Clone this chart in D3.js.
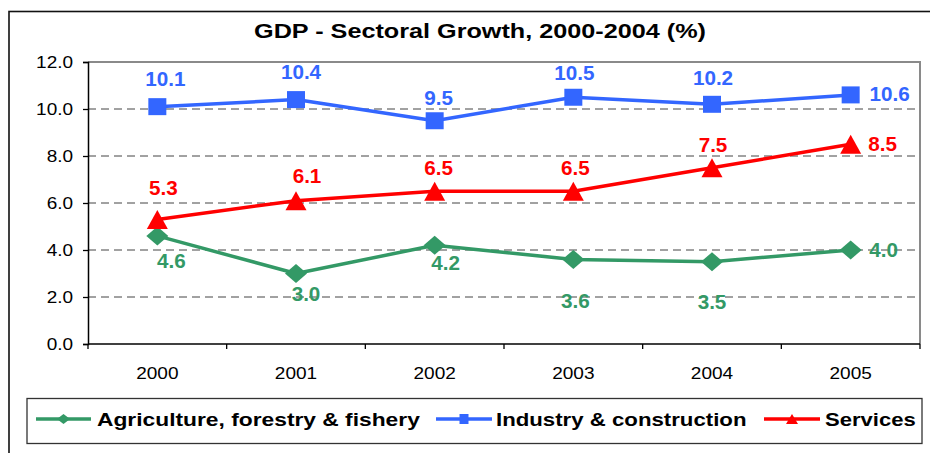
<!DOCTYPE html>
<html>
<head>
<meta charset="utf-8">
<script src="https://cdn.jsdelivr.net/npm/d3@7/dist/d3.min.js"></script>
<style>
  html, body { margin: 0; padding: 0; background: #fff; }
  svg { display: block; font-family: "Liberation Sans", Arial, Helvetica, sans-serif; }
</style>
</head>
<body>
<svg id="chart" width="930" height="453"></svg>
<script>
// ---- data ----
const years = ["2000", "2001", "2002", "2003", "2004", "2005"];
const agriculture = [4.6, 3.0, 4.2, 3.6, 3.5, 4.0];
const industry = [10.1, 10.4, 9.5, 10.5, 10.2, 10.6];
const services = [5.3, 6.1, 6.5, 6.5, 7.5, 8.5];
const yTicks = [0, 2, 4, 6, 8, 10, 12];
const seriesNames = ["Agriculture, forestry & fishery", "Industry & construction", "Services"];
const titleText = "GDP - Sectoral Growth, 2000-2004 (%)";

// ---- layout ----
const plot = { left: 88, right: 920, top: 62, bottom: 344 };
const colors = ["#339966", "#3366FF", "#FF0000"];
const shapes = ["diamond", "square", "triangle"];
// value label nudges (dx, dy) relative to each marker
const labelNudges = [
  [[14, 25], [10, 21], [11, 18], [2, 42], [0, 40], [33, 0]],
  [[8, -27], [5, -27], [4, -23], [1, -24], [1, -26], [39, -1]],
  [[6, -31], [11, -24], [4, -23], [2, -23], [1, -23], [32, 0]]
];
const legendItems = [
  { x0: 36, x1: 91, tx: 97, sx: 1.2 },
  { x0: 436, x1: 492, tx: 496, sx: 1.17 },
  { x0: 764, x1: 820, tx: 825, sx: 1.16 }
];

const svg = d3.select("#chart");

const x = d3.scaleBand().domain(years).range([plot.left, plot.right]);
const y = d3.scaleLinear().domain([0, 12]).range([plot.bottom, plot.top]);

// horizontally widened text, as the chart's text runs wide
function wideText(sel, px, py, sx) {
  return sel.attr("x", 0).attr("y", 0)
    .attr("transform", `translate(${px},${py}) scale(${sx},1)`);
}

function markerPath(shape, w, h) {
  const a = w / 2, b = h / 2;
  if (shape === "square") return `M${-a},${-b}H${a}V${b}H${-a}Z`;
  if (shape === "triangle") return `M0,${-b}L${a},${b}L${-a},${b}Z`;
  return `M0,${-b}L${a},0L0,${b}L${-a},0Z`;
}
const markerSize = { diamond: [22, 19], square: [18, 17], triangle: [21, 19] };
const legendMarkerSize = { diamond: [13, 10], square: [9, 10], triangle: [12, 10] };

// outer frame
svg.append("rect")
  .attr("x", 9).attr("y", 11.5).attr("width", 940).attr("height", 470)
  .attr("fill", "none").attr("stroke", "#111").attr("stroke-width", 1.6);

// title
wideText(svg.append("text"), 480, 37.5, 1.23)
  .attr("text-anchor", "middle")
  .attr("font-size", 20.5).attr("font-weight", "bold").attr("fill", "#000")
  .text(titleText);

// grid lines
svg.append("g").selectAll("line")
  .data(yTicks.filter(t => t > 0 && t < 12))
  .join("line")
  .attr("x1", plot.left).attr("x2", plot.right)
  .attr("y1", d => y(d)).attr("y2", d => y(d))
  .attr("stroke", "#444").attr("stroke-width", 1)
  .attr("stroke-dasharray", "8,5");

// plot frame (top and right)
svg.append("path")
  .attr("d", `M${plot.left},${plot.top}H${plot.right}V${plot.bottom}`)
  .attr("fill", "none").attr("stroke", "#8a8a8a").attr("stroke-width", 2);

// y axis
const yAxis = svg.append("g")
  .attr("transform", `translate(${plot.left},0)`)
  .call(d3.axisLeft(y).tickValues(yTicks).tickSize(5).tickPadding(10)
    .tickFormat(d3.format(".1f")));
yAxis.select(".domain").attr("stroke", "#000").attr("stroke-width", 1.5);
yAxis.selectAll(".tick line").attr("stroke", "#000").attr("stroke-width", 1.3);
yAxis.selectAll(".tick text").each(function () {
  const t = d3.select(this);
  t.attr("x", null).attr("dy", null)
    .attr("transform", "translate(-15,0) scale(1.15,1)")
    .attr("dominant-baseline", "central")
    .attr("font-size", 16.5).attr("fill", "#000")
    .attr("font-family", "'Liberation Sans', Arial, sans-serif");
});

// x axis with ticks at category boundaries
const xAxisG = svg.append("g").attr("transform", `translate(0,${plot.bottom})`);
xAxisG.append("line")
  .attr("x1", plot.left).attr("x2", plot.right)
  .attr("stroke", "#000").attr("stroke-width", 1.5);
const boundaries = years.map(d => x(d)).concat([x(years[years.length - 1]) + x.bandwidth()]);
xAxisG.selectAll("line.tk").data(boundaries).join("line").attr("class", "tk")
  .attr("x1", d => d).attr("x2", d => d).attr("y1", 0).attr("y2", 5)
  .attr("stroke", "#000").attr("stroke-width", 1.3);
xAxisG.selectAll("text").data(years).join("text")
  .each(function (d) {
    wideText(d3.select(this), x(d) + x.bandwidth() / 2, 29, 1.12);
  })
  .attr("text-anchor", "middle").attr("dominant-baseline", "central")
  .attr("font-size", 17).attr("fill", "#000")
  .text(d => d);

// series
const allSeries = [agriculture, industry, services];
const line = d3.line()
  .x((d, i) => x(years[i]) + x.bandwidth() / 2)
  .y(d => y(d));

allSeries.forEach((vals, s) => {
  const g = svg.append("g");
  g.append("path").datum(vals)
    .attr("d", line)
    .attr("fill", "none").attr("stroke", colors[s]).attr("stroke-width", 3.5)
    .attr("stroke-linejoin", "round");
  const [mw, mh] = markerSize[shapes[s]];
  g.selectAll("path.mk").data(vals).join("path").attr("class", "mk")
    .attr("d", markerPath(shapes[s], mw, mh))
    .attr("transform", (d, i) => `translate(${x(years[i]) + x.bandwidth() / 2},${y(d)})`)
    .attr("fill", colors[s]);
  g.selectAll("text").data(vals).join("text")
    .each(function (d, i) {
      const [dx, dy] = labelNudges[s][i];
      wideText(d3.select(this), x(years[i]) + x.bandwidth() / 2 + dx, y(d) + dy, 1.06);
    })
    .attr("text-anchor", "middle").attr("dominant-baseline", "central")
    .attr("font-size", 19.5).attr("font-weight", "bold").attr("fill", colors[s])
    .text(d => d3.format(".1f")(d));
});

// legend
const legend = svg.append("g");
legend.append("rect")
  .attr("x", 27).attr("y", 398.5).attr("width", 895).attr("height", 45)
  .attr("fill", "#fff").attr("stroke", "#333").attr("stroke-width", 1.3);
const ly = 419;
legendItems.forEach((it, s) => {
  legend.append("line")
    .attr("x1", it.x0).attr("x2", it.x1).attr("y1", ly).attr("y2", ly)
    .attr("stroke", colors[s]).attr("stroke-width", 3.5);
  const [mw, mh] = legendMarkerSize[shapes[s]];
  legend.append("path")
    .attr("d", markerPath(shapes[s], mw, mh))
    .attr("transform", `translate(${(it.x0 + it.x1) / 2},${ly})`)
    .attr("fill", colors[s]);
  wideText(legend.append("text"), it.tx, ly, it.sx)
    .attr("dominant-baseline", "central")
    .attr("font-size", 19).attr("font-weight", "bold").attr("fill", "#000")
    .text(seriesNames[s]);
});
</script>
</body>
</html>
